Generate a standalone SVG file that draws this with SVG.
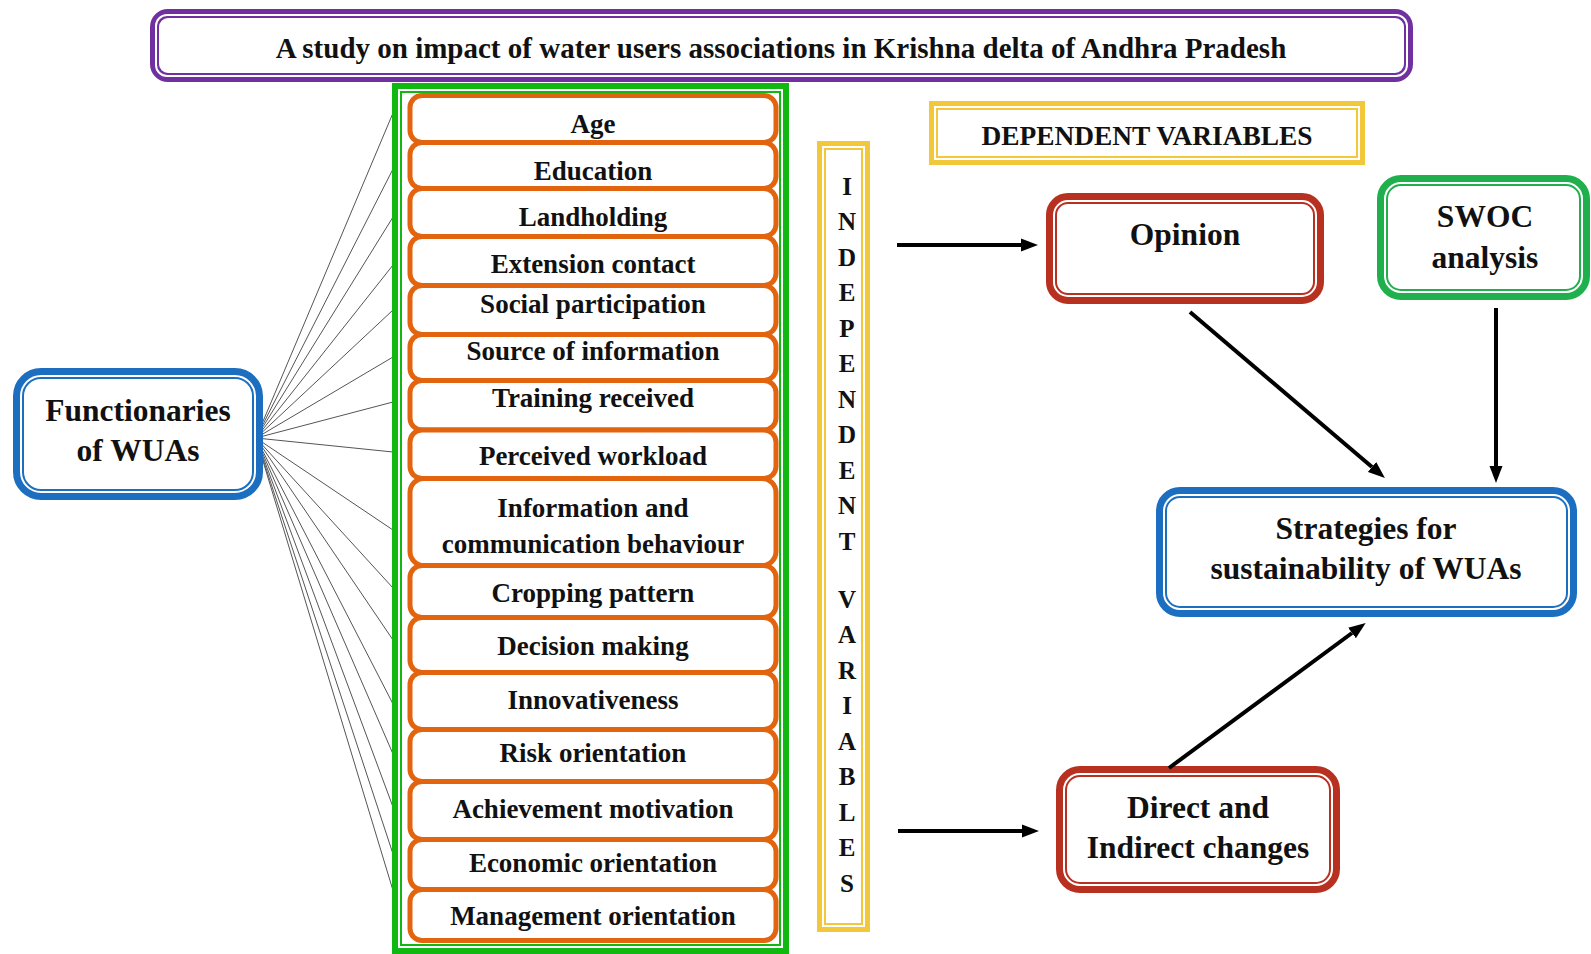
<svg xmlns="http://www.w3.org/2000/svg" width="1591" height="954" viewBox="0 0 1591 954">
<style>
text{font-family:"Liberation Serif","Times New Roman",serif;font-weight:bold;fill:#111;text-anchor:middle}
.gap{fill:none;stroke:#fff;stroke-width:2}
.purple{fill:#fff;stroke:#7030A0;stroke-width:9}
.green{fill:#fff;stroke:#12B812;stroke-width:10}
.blue{fill:#fff;stroke:#1C6FC0;stroke-width:11}
.yellow{fill:#fff;stroke:#F3C73A;stroke-width:9}
.red{fill:#fff;stroke:#B8301F;stroke-width:11}
.swoc{fill:#fff;stroke:#1FAF4C;stroke-width:11}
.item rect{fill:#fff;stroke:#E2640F;stroke-width:5}
.item text{font-size:27px}
.big{font-size:31.5px}
.fan line{stroke:#555;stroke-width:1}
.arrow{stroke:#000;stroke-width:4;fill:none;marker-end:url(#ah)}
</style>
<defs>
<marker id="ah" markerUnits="userSpaceOnUse" markerWidth="17" markerHeight="14" viewBox="0 -7 17 14" refX="0" refY="0" orient="auto">
<path d="M0,-6.5 L17,0 L0,6.5 Z" fill="#000"/>
</marker>
</defs>
<rect width="1591" height="954" fill="#fff"/>

<g id="title">
<rect class="purple" x="154.5" y="13.5" width="1254" height="64" rx="13.5"/>
<rect class="gap" x="156" y="15" width="1251" height="61" rx="11"/>
<text x="781" y="57.5" font-size="29">A study on impact of water users associations in Krishna delta of Andhra Pradesh</text>
</g>

<g id="connectors-fan" class="fan">
<line x1="256" y1="438" x2="393" y2="113"/>
<line x1="256" y1="438" x2="393" y2="169"/>
<line x1="256" y1="438" x2="393" y2="217"/>
<line x1="256" y1="438" x2="393" y2="265"/>
<line x1="256" y1="438" x2="393" y2="310"/>
<line x1="256" y1="438" x2="393" y2="357"/>
<line x1="256" y1="438" x2="393" y2="402"/>
<line x1="256" y1="438" x2="393" y2="452"/>
<line x1="256" y1="438" x2="393" y2="530"/>
<line x1="256" y1="438" x2="393" y2="588"/>
<line x1="256" y1="438" x2="393" y2="640"/>
<line x1="256" y1="438" x2="393" y2="704"/>
<line x1="256" y1="438" x2="393" y2="754"/>
<line x1="256" y1="438" x2="393" y2="807"/>
<line x1="256" y1="438" x2="394" y2="857"/>
<line x1="256" y1="438" x2="398" y2="907"/>
</g>

<g id="functionaries">
<rect class="blue" x="18.5" y="373.5" width="239" height="121" rx="22.5"/>
<rect class="gap" x="21" y="376" width="234" height="116" rx="20"/>
<text class="big" x="138" y="421">Functionaries</text>
<text class="big" x="138" y="461">of WUAs</text>
</g>

<g id="independent-group">
<rect class="green" x="397" y="88" width="387" height="861"/>
<rect class="gap" x="399" y="90" width="383" height="857"/>
</g>

<g id="item-age" class="item"><rect x="410" y="95.5" width="366" height="47" rx="12"/><text x="593" y="133">Age</text></g>
<g id="item-education" class="item"><rect x="410" y="142.5" width="366" height="46" rx="12"/><text x="593" y="180">Education</text></g>
<g id="item-landholding" class="item"><rect x="410" y="188.5" width="366" height="48" rx="12"/><text x="593" y="226">Landholding</text></g>
<g id="item-extension" class="item"><rect x="410" y="236.5" width="366" height="49" rx="12"/><text x="593" y="273">Extension contact</text></g>
<g id="item-social" class="item"><rect x="410" y="285.5" width="366" height="49" rx="12"/><text x="593" y="313">Social participation</text></g>
<g id="item-source" class="item"><rect x="410" y="334.5" width="366" height="46" rx="12"/><text x="593" y="360">Source of information</text></g>
<g id="item-training" class="item"><rect x="410" y="380.5" width="366" height="49.5" rx="12"/><text x="593" y="407">Training received</text></g>
<g id="item-workload" class="item"><rect x="410" y="430" width="366" height="48.5" rx="12"/><text x="593" y="465">Perceived workload</text></g>
<g id="item-icb" class="item"><rect x="410" y="478.5" width="366" height="87" rx="14"/><text x="593" y="517">Information and</text><text x="593" y="553">communication behaviour</text></g>
<g id="item-cropping" class="item"><rect x="410" y="565.5" width="366" height="52" rx="12"/><text x="593" y="602">Cropping pattern</text></g>
<g id="item-decision" class="item"><rect x="410" y="617.5" width="366" height="55" rx="12"/><text x="593" y="655">Decision making</text></g>
<g id="item-innovativeness" class="item"><rect x="410" y="672.5" width="366" height="57" rx="12"/><text x="593" y="709">Innovativeness</text></g>
<g id="item-risk" class="item"><rect x="410" y="729.5" width="366" height="52" rx="12"/><text x="593" y="762">Risk orientation</text></g>
<g id="item-achievement" class="item"><rect x="410" y="781.5" width="366" height="58" rx="12"/><text x="593" y="818">Achievement motivation</text></g>
<g id="item-economic" class="item"><rect x="410" y="839.5" width="366" height="50" rx="12"/><text x="593" y="872">Economic orientation</text></g>
<g id="item-management" class="item"><rect x="410" y="889.5" width="366" height="51" rx="12"/><text x="593" y="925">Management orientation</text></g>

<g id="independent-variables">
<rect class="yellow" x="821.5" y="145.5" width="44" height="782"/>
<rect class="gap" x="823" y="147" width="41" height="779"/>
<text x="847" font-size="25"><tspan x="847" y="194.5">I</tspan><tspan x="847" y="230">N</tspan><tspan x="847" y="265.5">D</tspan><tspan x="847" y="301">E</tspan><tspan x="847" y="336.5">P</tspan><tspan x="847" y="372">E</tspan><tspan x="847" y="407.5">N</tspan><tspan x="847" y="443">D</tspan><tspan x="847" y="478.5">E</tspan><tspan x="847" y="514">N</tspan><tspan x="847" y="549.5">T</tspan><tspan x="847" y="607.5">V</tspan><tspan x="847" y="643">A</tspan><tspan x="847" y="678.5">R</tspan><tspan x="847" y="714">I</tspan><tspan x="847" y="749.5">A</tspan><tspan x="847" y="785">B</tspan><tspan x="847" y="820.5">L</tspan><tspan x="847" y="856">E</tspan><tspan x="847" y="891.5">S</tspan></text>
</g>

<g id="dependent-variables">
<rect class="yellow" x="933.5" y="105.5" width="427" height="55"/>
<rect class="gap" x="935" y="107" width="424" height="52"/>
<text x="1147" y="145" font-size="27.4">DEPENDENT VARIABLES</text>
</g>

<g id="opinion">
<rect class="red" x="1051.5" y="198.5" width="267" height="100" rx="16.5"/>
<rect class="gap" x="1054" y="201" width="262" height="95" rx="14"/>
<text class="big" x="1185" y="245">Opinion</text>
</g>

<g id="swoc">
<rect class="swoc" x="1382.5" y="180.5" width="202" height="114" rx="18.5"/>
<rect class="gap" x="1385" y="183" width="197" height="109" rx="16"/>
<text class="big" x="1485" y="227">SWOC</text>
<text class="big" x="1485" y="268">analysis</text>
</g>

<g id="strategies">
<rect class="blue" x="1161.5" y="492.5" width="410" height="119" rx="18.5"/>
<rect class="gap" x="1164" y="495" width="405" height="114" rx="16"/>
<text class="big" x="1366" y="539">Strategies for</text>
<text class="big" x="1366" y="579">sustainability of WUAs</text>
</g>

<g id="direct-indirect">
<rect class="red" x="1061.5" y="771.5" width="273" height="116" rx="18.5"/>
<rect class="gap" x="1064" y="774" width="268" height="111" rx="16"/>
<text class="big" x="1198" y="818">Direct and</text>
<text class="big" x="1198" y="858">Indirect changes</text>
</g>

<g id="connectors">
<line class="arrow" x1="897" y1="245" x2="1021" y2="245"/>
<line class="arrow" x1="898" y1="831" x2="1022" y2="831"/>
<line class="arrow" x1="1190" y1="312" x2="1372" y2="467"/>
<line class="arrow" x1="1496" y1="308" x2="1496" y2="466"/>
<line class="arrow" x1="1169" y1="768" x2="1352" y2="633"/>
</g>
</svg>
